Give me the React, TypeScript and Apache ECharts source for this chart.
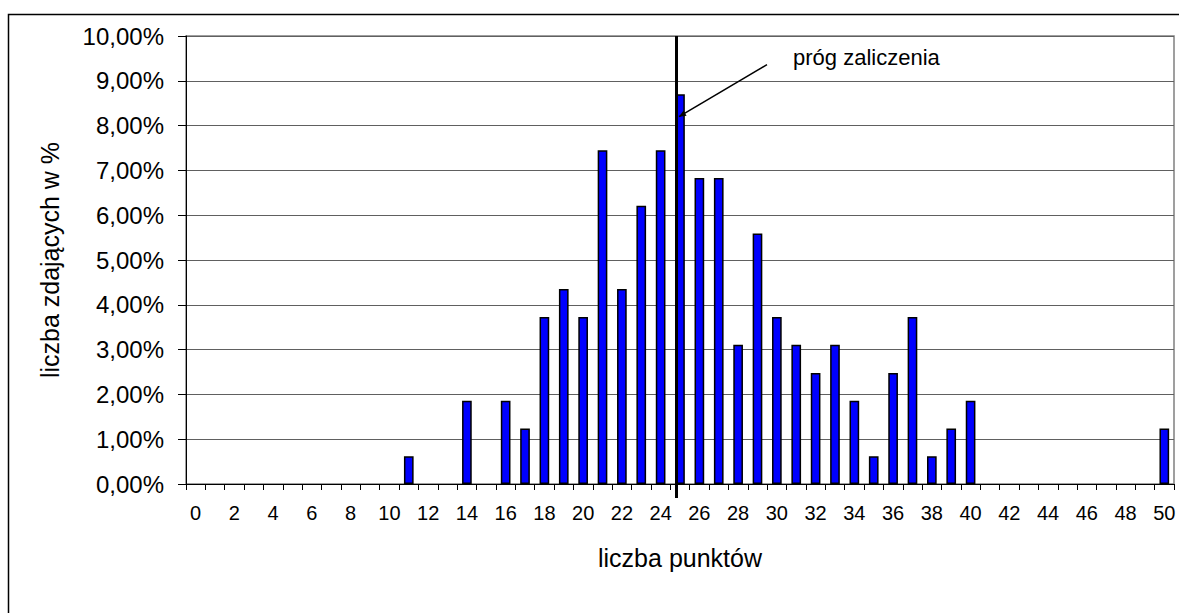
import React, { useEffect, useRef } from "react";
import * as echarts from "echarts";

const categories = [
  "0", "1", "2", "3", "4", "5", "6", "7", "8", "9", "10",
  "11", "12", "13", "14", "15", "16", "17", "18", "19", "20",
  "21", "22", "23", "24", "25", "26", "27", "28", "29", "30",
  "31", "32", "33", "34", "35", "36", "37", "38", "39", "40",
  "41", "42", "43", "44", "45", "46", "47", "48", "49", "50",
];

// share of candidates (%) per point score
const shares = [
  0, 0, 0, 0, 0, 0, 0, 0, 0, 0, 0,
  0.62, 0, 0, 1.86, 0, 1.86, 1.24, 3.73, 4.35, 3.73,
  7.45, 4.35, 6.21, 7.45, 8.7, 6.83, 6.83, 3.11, 5.59, 3.73,
  3.11, 2.48, 3.11, 1.86, 0.62, 2.48, 3.73, 0.62, 1.24, 1.86,
  0, 0, 0, 0, 0, 0, 0, 0, 0, 1.24,
];

const passThreshold = "25";
const annotationLabel = "próg zaliczenia";
const yTitle = "liczba zdających w %";
const xTitle = "liczba punktów";
const yMin = 0;
const yMax = 10;
const yStep = 1;

const FONT = "'Liberation Sans', Arial, sans-serif";

export default function App() {
  const ref = useRef<HTMLDivElement>(null);

  useEffect(() => {
    if (!ref.current) return;
    const chart = echarts.init(ref.current, undefined, { renderer: "svg" });
    chart.setOption({
      animation: false,
      backgroundColor: "#ffffff",
      grid: {
        left: 186,
        top: 36,
        right: 5,
        bottom: 129,
        show: true,
        borderColor: "#808080",
        borderWidth: 1.5,
        backgroundColor: "transparent",
      },
      xAxis: {
        type: "category",
        data: categories,
        boundaryGap: true,
        name: xTitle,
        nameLocation: "middle",
        nameGap: 61,
        nameTextStyle: { fontFamily: FONT, fontSize: 25, color: "#000" },
        axisLine: { lineStyle: { color: "#000", width: 1 } },
        axisTick: { show: true, interval: 0, length: 6, lineStyle: { color: "#000" } },
        axisLabel: {
          interval: 1,
          margin: 19,
          fontFamily: FONT,
          fontSize: 20,
          color: "#000",
        },
        splitLine: { show: false },
      },
      yAxis: {
        type: "value",
        min: yMin,
        max: yMax,
        interval: yStep,
        name: yTitle,
        nameLocation: "middle",
        nameGap: 124,
        nameTextStyle: { fontFamily: FONT, fontSize: 25, color: "#000" },
        axisLine: { show: true, lineStyle: { color: "#000", width: 1 } },
        axisTick: { show: true, length: 8, lineStyle: { color: "#000" } },
        axisLabel: {
          margin: 22,
          fontFamily: FONT,
          fontSize: 24,
          color: "#000",
          formatter: (v: number) => v.toFixed(2).replace(".", ",") + "%",
        },
        splitLine: { show: true, lineStyle: { color: "#606060", width: 1 } },
      },
      series: [
        {
          type: "bar",
          data: shares.map((v) =>
            v === 0 ? { value: v, itemStyle: { borderWidth: 0 } } : v
          ),
          barWidth: "50%",
          itemStyle: { color: "#0000ff", borderColor: "#000", borderWidth: 1.5 },
        },
      ],
    });

    const top = chart.convertToPixel({ xAxisIndex: 0, yAxisIndex: 0 }, [passThreshold, yMax]) as number[];
    const bottom = chart.convertToPixel({ xAxisIndex: 0, yAxisIndex: 0 }, [passThreshold, yMin]) as number[];
    const lx = top[0] - 3.5;
    const arrowEnd = chart.convertToPixel({ xAxisIndex: 0, yAxisIndex: 0 }, [passThreshold, 8.2]) as number[];
    const ex = lx + 2.5;
    const ey = arrowEnd[1];
    const sx = ex + 88;
    const sy = ey - 52;
    const ang = Math.atan2(ey - sy, ex - sx);
    const ah = 7;
    const aw = 3;
    const p1 = [ex - ah * Math.cos(ang) + aw * Math.sin(ang), ey - ah * Math.sin(ang) - aw * Math.cos(ang)];
    const p2 = [ex - ah * Math.cos(ang) - aw * Math.sin(ang), ey - ah * Math.sin(ang) + aw * Math.cos(ang)];

    chart.setOption({
      graphic: [
        {
          type: "rect",
          shape: { x: 8.5, y: 14.5, width: 1300, height: 800 },
          style: { fill: "none", stroke: "#000", lineWidth: 1.5 },
          silent: true,
          z: 0,
        },
        {
          type: "line",
          shape: { x1: lx, y1: top[1], x2: lx, y2: bottom[1] + 14 },
          style: { stroke: "#000", lineWidth: 3 },
          z: 100,
        },
        {
          type: "line",
          shape: { x1: sx, y1: sy, x2: ex, y2: ey },
          style: { stroke: "#000", lineWidth: 1.5 },
          z: 100,
        },
        {
          type: "polygon",
          shape: { points: [[ex, ey], p1, p2] },
          style: { fill: "#000" },
          z: 100,
        },
        {
          type: "text",
          x: sx + 26,
          y: sy - 7,
          style: {
            text: annotationLabel,
            fontFamily: FONT,
            fontSize: 22,
            fill: "#000",
            verticalAlign: "middle",
            align: "left",
          },
          z: 100,
        },
      ],
    });

    return () => chart.dispose();
  }, []);

  return (
    <div
      ref={ref}
      style={{ position: "fixed", left: 0, top: 0, width: 1179, height: 613, background: "#fff" }}
    />
  );
}
